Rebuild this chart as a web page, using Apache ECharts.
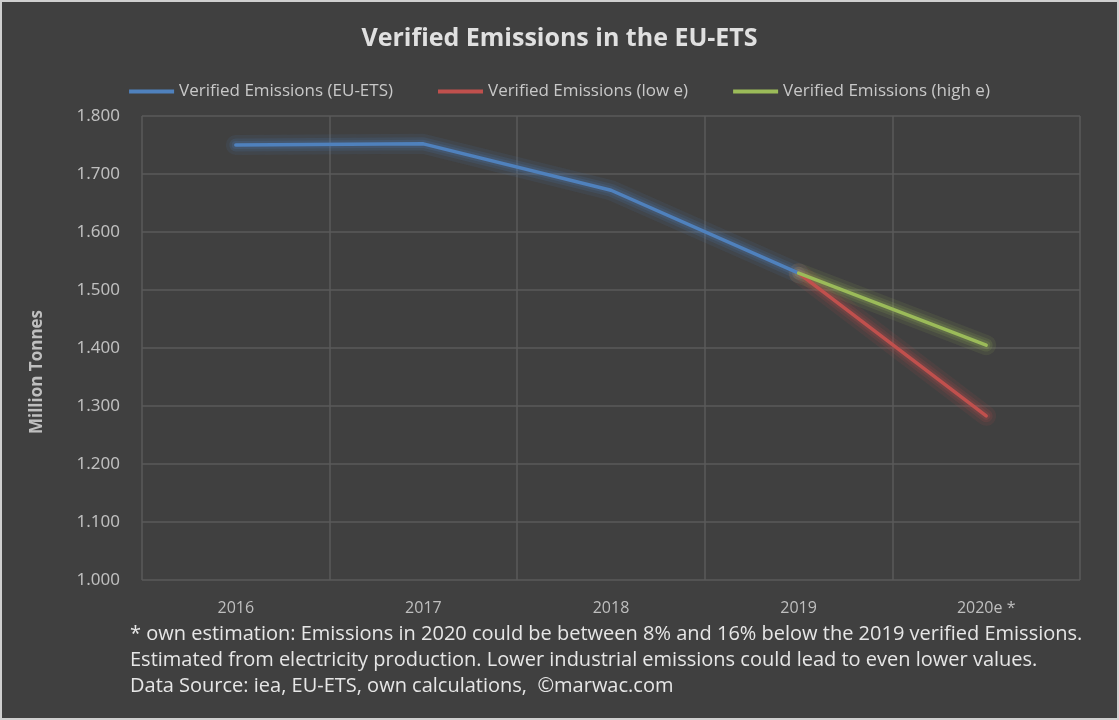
<!DOCTYPE html>
<html><head><meta charset="utf-8">
<script src="https://cdn.jsdelivr.net/npm/echarts@6/dist/echarts.min.js"></script>
<style>html,body{margin:0;padding:0;background:#404040;}#c{width:1119px;height:720px;}</style>
</head><body><div id="c"></div>
<script>
const categories = ['2016','2017','2018','2019','2020e *'];
const etsValues = [1750, 1752, 1672, 1529, null];
const lowValues = [null, null, null, 1529, 1283];
const highValues = [null, null, null, 1529, 1405];
const seriesNames = ['Verified Emissions (EU-ETS)','Verified Emissions (low e)','Verified Emissions (high e)'];
const yAxisTitle = 'Million Tonnes';
const footnotes = [
 '* own estimation: Emissions in 2020 could be between 8% and 16% below the 2019 verified Emissions.',
 'Estimated from electricity production. Lower industrial emissions could lead to even lower values.',
 'Data Source: iea, EU-ETS, own calculations,  \u00A9marwac.com'
];
const FONT = '"Open Sans", sans-serif';
const chart = echarts.init(document.getElementById('c'));
function mk(name, data, color){
  return {name, type:'line', data, symbol:'none', connectNulls:false,
    lineStyle:{color, width:3.5, cap:'round'},
    itemStyle:{color}, z:3};
}
function glow(name, data, color, w, op){
  return {name:name+' glow'+w, type:'line', data, symbol:'none', silent:true,
    lineStyle:{color, width:w, opacity:op, cap:'round', join:'round'},
    z:2};
}
const colors = ['#4f81bd','#c0504d','#9bbb59'];
const dataSets = [etsValues, lowValues, highValues];
const glowSeries = [];
[[20,0.10],[13,0.14],[8,0.18]].forEach(([w,op])=>{
  dataSets.forEach((d,i)=>glowSeries.push(glow(seriesNames[i], d, colors[i], w, op)));
});
chart.setOption({
  backgroundColor:'#404040',
  animation:false,
  title:{text:'Verified Emissions in the EU-ETS', left:'center', top:21,
    textStyle:{color:'#e0e0e0', fontSize:25, fontWeight:'bold', fontFamily:FONT}},
  legend:{top:78, left:'center', itemWidth:45, itemHeight:4, itemGap:45, icon:'rect',
    textStyle:{color:'#c8c8c8', fontSize:17, fontFamily:FONT},
    data:seriesNames},
  grid:{left:142, right:39, top:116, bottom:140, containLabel:false},
  xAxis:{type:'category', data:categories, boundaryGap:true,
    axisLine:{show:false}, axisTick:{show:false},
    axisLabel:{color:'#bfbfbf', fontSize:16, fontFamily:FONT, margin:20},
    splitLine:{show:true, lineStyle:{color:'#5a5a5a', width:1.5}}},
  yAxis:{type:'value', min:1000, max:1800, interval:100,
    axisLine:{show:false}, axisTick:{show:false},
    axisLabel:{color:'#bfbfbf', fontSize:17, fontFamily:'"Noto Sans", sans-serif', margin:22,
      formatter:v=>Math.floor(v/1000)+'.'+String(v%1000).padStart(3,'0')},
    splitLine:{lineStyle:{color:'#5a5a5a', width:1.5}}},
  series:[
    ...glowSeries,
    mk(seriesNames[0], etsValues, colors[0]),
    mk(seriesNames[1], lowValues, colors[1]),
    mk(seriesNames[2], highValues, colors[2])
  ],
  graphic:[
    {type:'rect', shape:{x:1,y:1,width:1117,height:718}, style:{fill:'none', stroke:'#d0d0d0', lineWidth:2}, silent:true},
    {type:'text', x:37, y:372, rotation:Math.PI/2,
      style:{text:yAxisTitle, fill:'#bfbfbf', fontSize:17, fontWeight:'bold', fontFamily:FONT, align:'center', verticalAlign:'middle'}},
    ...footnotes.map((t,i)=>({type:'text', left:130, top:624+i*26,
      style:{text:t, fill:'#e6e6e6', fontSize:20, fontFamily:FONT}}))
  ]
});
</script></body></html>
